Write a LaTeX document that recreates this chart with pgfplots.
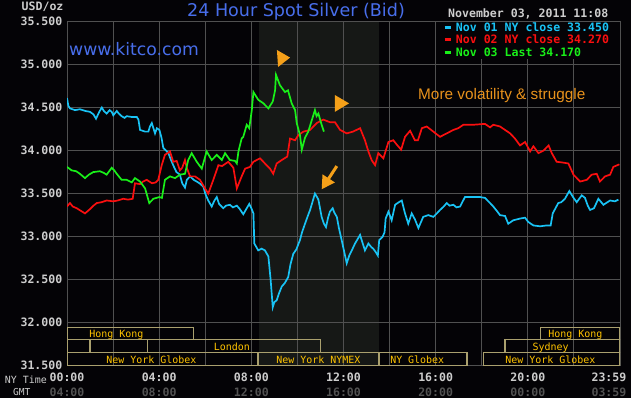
\documentclass[border=0pt]{standalone}
\usepackage{fontspec}
\setmainfont{Liberation Sans}
\newfontfamily\monofont{DejaVu Sans Mono}
\newfontfamily\dejavu{DejaVu Sans}
\usepackage{xcolor}
\usepackage{pgfplots}
\pgfplotsset{compat=1.18}
\usetikzlibrary{arrows.meta}
\definecolor{bg}{RGB}{4,3,6}
\definecolor{gridc}{RGB}{80,80,80}
\definecolor{shadec}{RGB}{22,24,22}
\definecolor{cyanc}{RGB}{25,195,245}
\definecolor{redc}{RGB}{250,15,15}
\definecolor{greenc}{RGB}{25,240,25}
\definecolor{boxc}{RGB}{170,160,110}
\definecolor{mktc}{RGB}{255,195,0}
\definecolor{titlec}{RGB}{72,110,235}
\definecolor{annc}{RGB}{245,160,25}
\definecolor{annt}{RGB}{232,146,28}
\definecolor{lblc}{RGB}{205,205,205}
\definecolor{gmtc}{RGB}{82,82,82}
\pagecolor{bg}
\begin{document}
\begin{tikzpicture}[x=1bp,y=1bp]
\begin{axis}[
  at={(67bp,32.3bp)}, anchor=south west,
  scale only axis, width=553bp, height=344.2bp,
  xmin=0, xmax=24, ymin=31.5, ymax=35.5,
  set layers,
  axis line style={draw=gridc, line width=0.9bp},
  xtick={0,4,8,12,16,20,23.52},
  xticklabels={{00:00\\\textcolor{gmtc}{04:00}},{04:00\\\textcolor{gmtc}{08:00}},{08:00\\\textcolor{gmtc}{12:00}},{12:00\\\textcolor{gmtc}{16:00}},{16:00\\\textcolor{gmtc}{20:00}},{20:00\\\textcolor{gmtc}{00:00}},{23:59\\\textcolor{gmtc}{03:59}}},
  minor xtick={2,4,...,22},
  xminorgrids=true, xmajorgrids=false, ymajorgrids=true,
  ytick={31.5,32,32.5,33,33.5,34,34.5,35,35.5},
  yticklabels={31.500,32.000,32.500,33.000,33.500,34.000,34.500,35.000,35.500},
  major tick length=0, minor tick length=0,
  major grid style={draw=gridc, line width=0.9bp},
  minor grid style={draw=gridc, line width=0.9bp},
  xticklabel style={font=\monofont\bfseries\fontsize{11.6}{15.4}\selectfont, text=lblc, align=center, anchor=north, inner sep=0pt, yshift=-6.8bp},
  yticklabel style={font=\monofont\bfseries\fontsize{11.6}{13}\selectfont, text=lblc, anchor=east, inner sep=0pt, xshift=-4.5bp},
  legend style={at={(0.6693,1)}, anchor=north west, yshift=-0.6bp, fill=bg, draw=none,
    inner xsep=6bp, inner ysep=0.5bp, font=\monofont\bfseries\fontsize{11.6}{12}\selectfont,
    row sep=1.5bp, column sep=4bp, nodes={inner sep=0pt, text height=8.5bp, text depth=2.5bp}},
  legend cell align=left,
  legend image code/.code={\draw[#1, line width=2.6bp] (0bp,1bp) -- (6bp,1bp);},
  every axis plot/.append style={line width=1.7bp, sharp plot},
]
\addplot[fill=shadec, draw=none, on layer=axis background, forget plot] coordinates {(8.33,31.5) (8.33,35.5) (13.55,35.5) (13.55,31.5)};

\addplot[cyanc] coordinates {
(0,34.61)(0.06,34.52)(0.13,34.49)(0.35,34.47)(0.56,34.48)(0.8,34.46)(1.0,34.45)(1.15,34.42)(1.26,34.37)(1.4,34.45)(1.51,34.50)(1.6,34.46)(1.72,34.43)(1.85,34.47)(1.94,34.45)(2.01,34.41)(2.16,34.46)(2.25,34.43)(2.37,34.40)(2.5,34.38)(2.59,34.40)(2.81,34.39)(3.03,34.39)(3.1,34.36)(3.17,34.24)(3.39,34.22)(3.53,34.22)(3.6,34.28)(3.68,34.32)(3.75,34.26)(3.82,34.20)(3.9,34.26)(4.01,34.24)(4.1,34.15)(4.18,34.03)(4.3,34.0)(4.40,33.97)(4.5,33.90)(4.61,33.83)(4.75,33.75)(4.90,33.72)(5.0,33.62)(5.12,33.57)(5.2,33.66)(5.34,33.70)(5.5,33.66)(5.63,33.64)(5.75,33.62)(5.92,33.58)(6.0,33.50)(6.13,33.42)(6.28,33.35)(6.4,33.42)(6.50,33.46)(6.6,33.38)(6.78,33.33)(6.9,33.36)(7.07,33.37)(7.2,33.34)(7.37,33.36)(7.5,33.32)(7.65,33.26)(7.8,33.33)(7.91,33.38)(8.0,33.33)(8.09,33.27)(8.13,32.92)(8.30,32.84)(8.45,32.86)(8.59,32.84)(8.74,32.77)(8.84,32.49)(8.93,32.18)(9.0,32.24)(9.10,32.26)(9.2,32.34)(9.32,32.42)(9.45,32.46)(9.60,32.53)(9.7,32.68)(9.82,32.80)(9.95,32.85)(10.11,32.96)(10.2,33.05)(10.33,33.15)(10.45,33.24)(10.55,33.31)(10.65,33.40)(10.76,33.50)(10.85,33.46)(10.91,33.43)(11.05,33.23)(11.15,33.15)(11.24,33.11)(11.33,33.22)(11.41,33.29)(11.53,33.33)(11.6,33.28)(11.71,33.23)(11.8,33.10)(11.92,32.96)(12.05,32.80)(12.14,32.69)(12.25,32.78)(12.36,32.84)(12.50,32.92)(12.72,33.02)(12.8,32.95)(12.93,32.84)(13.08,32.92)(13.2,32.88)(13.29,32.86)(13.4,32.82)(13.49,32.78)(13.55,32.96)(13.7,33.0)(13.78,33.05)(13.83,33.21)(13.95,33.29)(14.09,33.19)(14.24,33.37)(14.4,33.40)(14.53,33.42)(14.67,33.27)(14.81,33.15)(14.96,33.27)(15.1,33.20)(15.25,33.10)(15.46,33.23)(15.68,33.25)(15.9,33.23)(16.05,33.27)(16.19,33.31)(16.35,33.35)(16.48,33.39)(16.6,33.36)(16.77,33.37)(16.9,33.34)(17.06,33.35)(17.27,33.46)(17.63,33.46)(17.93,33.46)(18.14,33.45)(18.36,33.39)(18.5,33.35)(18.65,33.30)(18.79,33.25)(19.01,33.24)(19.15,33.15)(19.37,33.19)(19.66,33.21)(19.88,33.22)(20.02,33.17)(20.24,33.13)(20.53,33.12)(20.82,33.13)(20.99,33.13)(21.08,33.27)(21.2,33.33)(21.32,33.39)(21.45,33.40)(21.61,33.44)(21.8,33.53)(21.96,33.46)(22.12,33.40)(22.34,33.48)(22.48,33.45)(22.6,33.36)(22.70,33.31)(22.87,33.33)(23.06,33.44)(23.28,33.37)(23.57,33.42)(23.78,33.41)(23.93,33.43)};
\addlegendentry{\textcolor{cyanc}{Nov 01 NY close 33.450}}

\addplot[redc] coordinates {
(0,33.35)(0.13,33.39)(0.25,33.35)(0.42,33.33)(0.6,33.30)(0.78,33.27)(1.0,33.32)(1.15,33.36)(1.29,33.39)(1.5,33.40)(1.72,33.42)(2.01,33.41)(2.2,33.42)(2.44,33.44)(2.65,33.43)(2.85,33.44)(2.95,33.62)(3.17,33.61)(3.3,33.64)(3.46,33.66)(3.69,33.62)(3.85,33.63)(3.96,33.66)(4.11,33.83)(4.25,33.95)(4.47,33.99)(4.61,33.87)(4.76,33.88)(4.90,33.77)(5.0,33.80)(5.12,33.89)(5.2,33.80)(5.34,33.70)(5.56,33.70)(5.77,33.66)(5.99,33.56)(6.13,33.50)(6.35,33.66)(6.57,33.83)(6.73,33.82)(7.0,33.87)(7.22,33.80)(7.37,33.56)(7.58,33.70)(7.73,33.79)(7.94,33.81)(8.09,33.87)(8.38,33.91)(8.59,33.85)(8.81,33.79)(8.95,33.73)(9.10,33.85)(9.32,33.89)(9.56,33.93)(9.68,34.14)(9.90,34.12)(10.04,34.18)(10.26,34.22)(10.55,34.24)(10.84,34.32)(11.12,34.36)(11.41,34.33)(11.63,34.33)(11.85,34.24)(12.14,34.20)(12.41,34.22)(12.72,34.26)(12.93,34.12)(13.08,33.99)(13.22,33.89)(13.37,33.83)(13.51,33.97)(13.73,33.91)(13.95,34.10)(14.16,34.12)(14.31,34.07)(14.50,34.01)(14.67,34.16)(14.89,34.23)(15.10,34.12)(15.23,34.12)(15.40,34.26)(15.61,34.28)(15.90,34.22)(16.19,34.16)(16.48,34.20)(16.77,34.24)(16.98,34.26)(17.20,34.30)(17.63,34.30)(18.14,34.31)(18.36,34.27)(18.50,34.30)(18.79,34.28)(19.01,34.24)(19.23,34.20)(19.44,34.14)(19.66,34.06)(19.88,34.10)(20.10,33.99)(20.24,34.05)(20.46,33.97)(20.68,34.00)(20.90,34.06)(21.04,33.97)(21.25,33.87)(21.54,33.86)(21.76,33.85)(21.98,33.72)(22.27,33.64)(22.56,33.66)(22.77,33.72)(22.99,33.73)(23.13,33.64)(23.35,33.70)(23.57,33.72)(23.71,33.81)(23.97,33.84)};
\addlegendentry{\textcolor{redc}{Nov 02 NY close 34.270}}

\addplot[greenc] coordinates {
(0,33.81)(0.2,33.77)(0.4,33.76)(0.56,33.73)(0.78,33.68)(0.95,33.72)(1.14,33.75)(1.43,33.76)(1.6,33.74)(1.72,33.72)(1.94,33.80)(2.05,33.77)(2.16,33.73)(2.37,33.66)(2.59,33.66)(2.81,33.63)(2.95,33.68)(3.17,33.64)(3.39,33.56)(3.57,33.39)(3.75,33.44)(4.01,33.46)(4.12,33.45)(4.25,33.66)(4.47,33.70)(4.69,33.68)(4.90,33.72)(5.12,33.73)(5.26,33.89)(5.41,33.97)(5.63,33.87)(5.85,33.79)(6.06,33.99)(6.28,33.89)(6.50,33.95)(6.72,33.89)(6.86,33.97)(7.07,33.89)(7.29,33.88)(7.37,33.85)(7.44,33.99)(7.58,34.14)(7.65,34.16)(7.80,34.30)(7.91,34.26)(8.02,34.47)(8.09,34.68)(8.30,34.59)(8.52,34.55)(8.74,34.49)(8.93,34.57)(9.03,34.70)(9.07,34.88)(9.24,34.76)(9.46,34.68)(9.59,34.70)(9.75,34.55)(9.90,34.47)(9.97,34.32)(10.11,34.18)(10.19,34.01)(10.33,34.15)(10.47,34.22)(10.62,34.35)(10.76,34.47)(10.83,34.40)(10.91,34.43)(11.05,34.30)(11.15,34.22)};
\addlegendentry{\textcolor{greenc}{Nov 03 Last 34.170}}

% market session boxes
\begin{scope}[boxc, line width=1.1bp]
\draw (axis cs:0,31.805) rectangle (axis cs:5.5,31.945);
\draw (axis cs:20.54,31.805) rectangle (axis cs:24,31.945);
\draw (axis cs:0,31.65) rectangle (axis cs:1,31.805);
\draw (axis cs:1,31.65) rectangle (axis cs:3.5,31.805);
\draw (axis cs:3.5,31.65) rectangle (axis cs:11,31.805);
\draw (axis cs:19.01,31.65) rectangle (axis cs:24,31.805);
\draw (axis cs:0,31.5) rectangle (axis cs:8.25,31.65);
\draw (axis cs:8.33,31.5) rectangle (axis cs:13.54,31.65);
\draw (axis cs:13.54,31.5) rectangle (axis cs:17.36,31.65);
\draw (axis cs:18.06,31.5) rectangle (axis cs:24,31.65);
\end{scope}
\begin{scope}[every node/.style={font=\monofont\fontsize{10}{12}\selectfont, text=mktc, anchor=base, inner sep=0pt}]
\node at (axis cs:2.14,31.828) {Hong Kong};
\node at (axis cs:22.06,31.828) {Hong Kong};
\node at (axis cs:7.16,31.680) {London};
\node at (axis cs:20.99,31.680) {Sydney};
\node at (axis cs:3.66,31.526) {New York Globex};
\node at (axis cs:10.91,31.526) {New York NYMEX};
\node at (axis cs:15.2,31.526) {NY Globex};
\node at (axis cs:20.98,31.526) {New York Globex};
\end{scope}
% annotations
\fill[annc] (axis cs:9.11,35.169) -- (axis cs:9.68,35.081) -- (axis cs:9.16,34.971) -- cycle;
\fill[annc] (axis cs:11.63,34.645) -- (axis cs:12.24,34.549) -- (axis cs:11.63,34.451) -- cycle;
\draw[annc, line width=3bp, -{Triangle[width=14bp,length=13bp]}] (axis cs:11.71,33.82) -- (axis cs:11.05,33.55);
\end{axis}
\node[font=\dejavu\fontsize{17.6}{20}\selectfont, text=titlec, anchor=base] at (296,382) {24 Hour Spot Silver (Bid)};
\node[font=\dejavu\fontsize{17.3}{20}\selectfont, text=titlec, anchor=base west, inner sep=0pt] at (69,343) {www.kitco.com};
\node[font=\fontsize{15.4}{18}\selectfont, text=annt, anchor=base west, inner sep=0pt] at (418,298.7) {More volatility \& struggle};
\node[font=\monofont\bfseries\fontsize{11.6}{13}\selectfont, text=lblc, anchor=base west, inner sep=0pt] at (448,380.7) {November 03, 2011 11:08};
\node[font=\monofont\bfseries\fontsize{11.6}{13}\selectfont, text=lblc, anchor=base west, inner sep=0pt] at (21.5,387.5) {USD/oz};
\node[font=\monofont\fontsize{10}{12}\selectfont, text=lblc, anchor=base west, inner sep=0pt] at (4.7,14.7) {NY Time};
\node[font=\monofont\fontsize{9.6}{12}\selectfont, text=lblc, anchor=base west, inner sep=0pt] at (13,3) {GMT};
\pgfresetboundingbox
\useasboundingbox (0,0) rectangle (631,398);
\end{tikzpicture}
\end{document}
